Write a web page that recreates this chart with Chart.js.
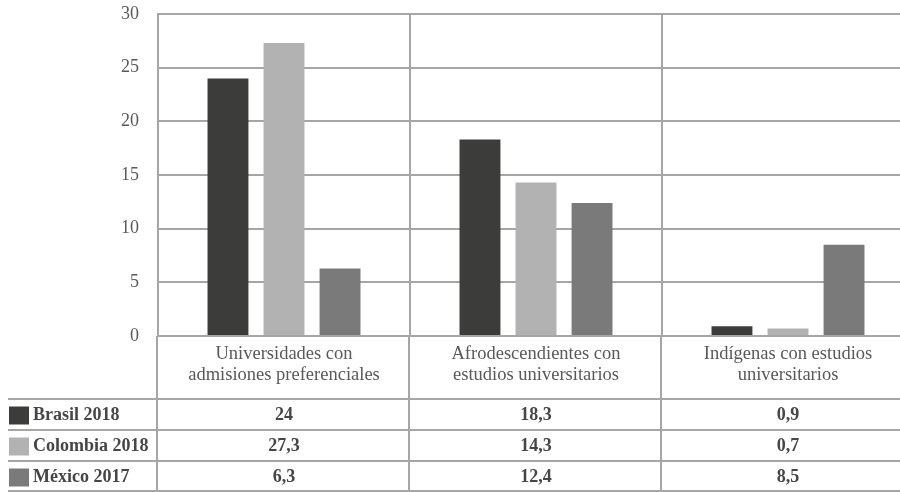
<!DOCTYPE html>
<html>
<head>
<meta charset="utf-8">
<script src="https://cdn.jsdelivr.net/npm/chart.js@4/dist/chart.umd.min.js"></script>
<style>
  html, body { margin: 0; padding: 0; background: #fff; overflow: hidden; }
  #wrap { position: relative; width: 916px; height: 492px; }
</style>
</head>
<body>
<div id="wrap"><canvas id="c"></canvas></div>
<script>
const categories = [
  ["Universidades con", "admisiones preferenciales"],
  ["Afrodescendientes con", "estudios universitarios"],
  ["Indígenas con estudios", "universitarios"]
];
const seriesNames = ["Brasil 2018", "Colombia 2018", "México 2017"];
const brasil = [24, 18.3, 0.9];
const colombia = [27.3, 14.3, 0.7];
const mexico = [6.3, 12.4, 8.5];
const seriesColors = ["#3c3c3a", "#b2b2b2", "#7a7a7a"];
const yMin = 0, yMax = 30, yStep = 5;

const FONT = "'Liberation Serif', 'DejaVu Serif', serif";
const GRID = "#a6a6a6";

const tablePlugin = {
  id: "dataTable",
  afterDraw(chart) {
    const { ctx, chartArea: a, scales: { x } } = chart;
    const n = chart.data.labels.length;
    const rowTop = 399, rowH = 31, tableBottom = 491, leftEdge = 8;
    const bounds = [a.left];
    for (let i = 0; i < n - 1; i++) {
      bounds.push((x.getPixelForValue(i) + x.getPixelForValue(i + 1)) / 2);
    }
    bounds.push(a.right);
    ctx.save();
    ctx.strokeStyle = GRID;
    ctx.lineWidth = 2;
    for (let i = 0; i < bounds.length; i++) {
      ctx.beginPath();
      ctx.moveTo(Math.round(bounds[i]) - 1, a.bottom);
      ctx.lineTo(Math.round(bounds[i]) - 1, tableBottom + 1);
      ctx.stroke();
    }
    const ds = chart.data.datasets;
    for (let r = 0; r <= ds.length; r++) {
      const y = Math.min(rowTop + r * rowH, tableBottom);
      ctx.beginPath();
      ctx.moveTo(leftEdge, y);
      ctx.lineTo(a.right, y);
      ctx.stroke();
    }
    ctx.textBaseline = "middle";
    ds.forEach((d, r) => {
      const cy = rowTop + r * rowH + rowH / 2 + 1;
      ctx.fillStyle = d.backgroundColor;
      ctx.fillRect(9, cy - 9, 20, 18);
      ctx.fillStyle = "#464646";
      ctx.font = "bold 18px " + FONT;
      ctx.textAlign = "left";
      ctx.fillText(d.label, 33, cy);
      ctx.textAlign = "center";
      d.data.forEach((v, i) => {
        const cx = (bounds[i] + bounds[i + 1]) / 2;
        ctx.fillText(String(v).replace(".", ","), cx, cy);
      });
    });
    ctx.restore();
  }
};

new Chart(document.getElementById("c"), {
  type: "bar",
  data: {
    labels: categories,
    datasets: [
      { label: seriesNames[0], data: brasil, backgroundColor: seriesColors[0] },
      { label: seriesNames[1], data: colombia, backgroundColor: seriesColors[1] },
      { label: seriesNames[2], data: mexico, backgroundColor: seriesColors[2] }
    ]
  },
  options: {
    responsive: true,
    maintainAspectRatio: false,
    animation: false,
    devicePixelRatio: 1,
    layout: { padding: { top: 14, right: 2, bottom: 93, left: 0 } },
    datasets: { bar: { categoryPercentage: 0.667, barPercentage: 0.73 } },
    plugins: { legend: { display: false }, tooltip: { enabled: false } },
    scales: {
      x: {
        grid: { color: GRID, lineWidth: 2, drawTicks: false, offset: true },
        border: { display: false },
        ticks: {
          color: "#595959",
          font: { family: FONT, size: 18.5, lineHeight: 1.14 },
          padding: 8,
          maxRotation: 0,
          autoSkip: false
        },
        afterFit(s) { s.height = 63; s.paddingLeft = 0; s.paddingRight = 0; }
      },
      y: {
        min: yMin, max: yMax,
        grid: { color: GRID, lineWidth: 2, drawTicks: false },
        border: { display: true, color: GRID, width: 2 },
        ticks: {
          stepSize: yStep,
          color: "#595959",
          font: { family: FONT, size: 18 },
          padding: 19
        },
        afterFit(s) { s.width = 158; s.paddingTop = 0; s.paddingBottom = 0; }
      }
    }
  },
  plugins: [tablePlugin]
});
</script>
</body>
</html>
